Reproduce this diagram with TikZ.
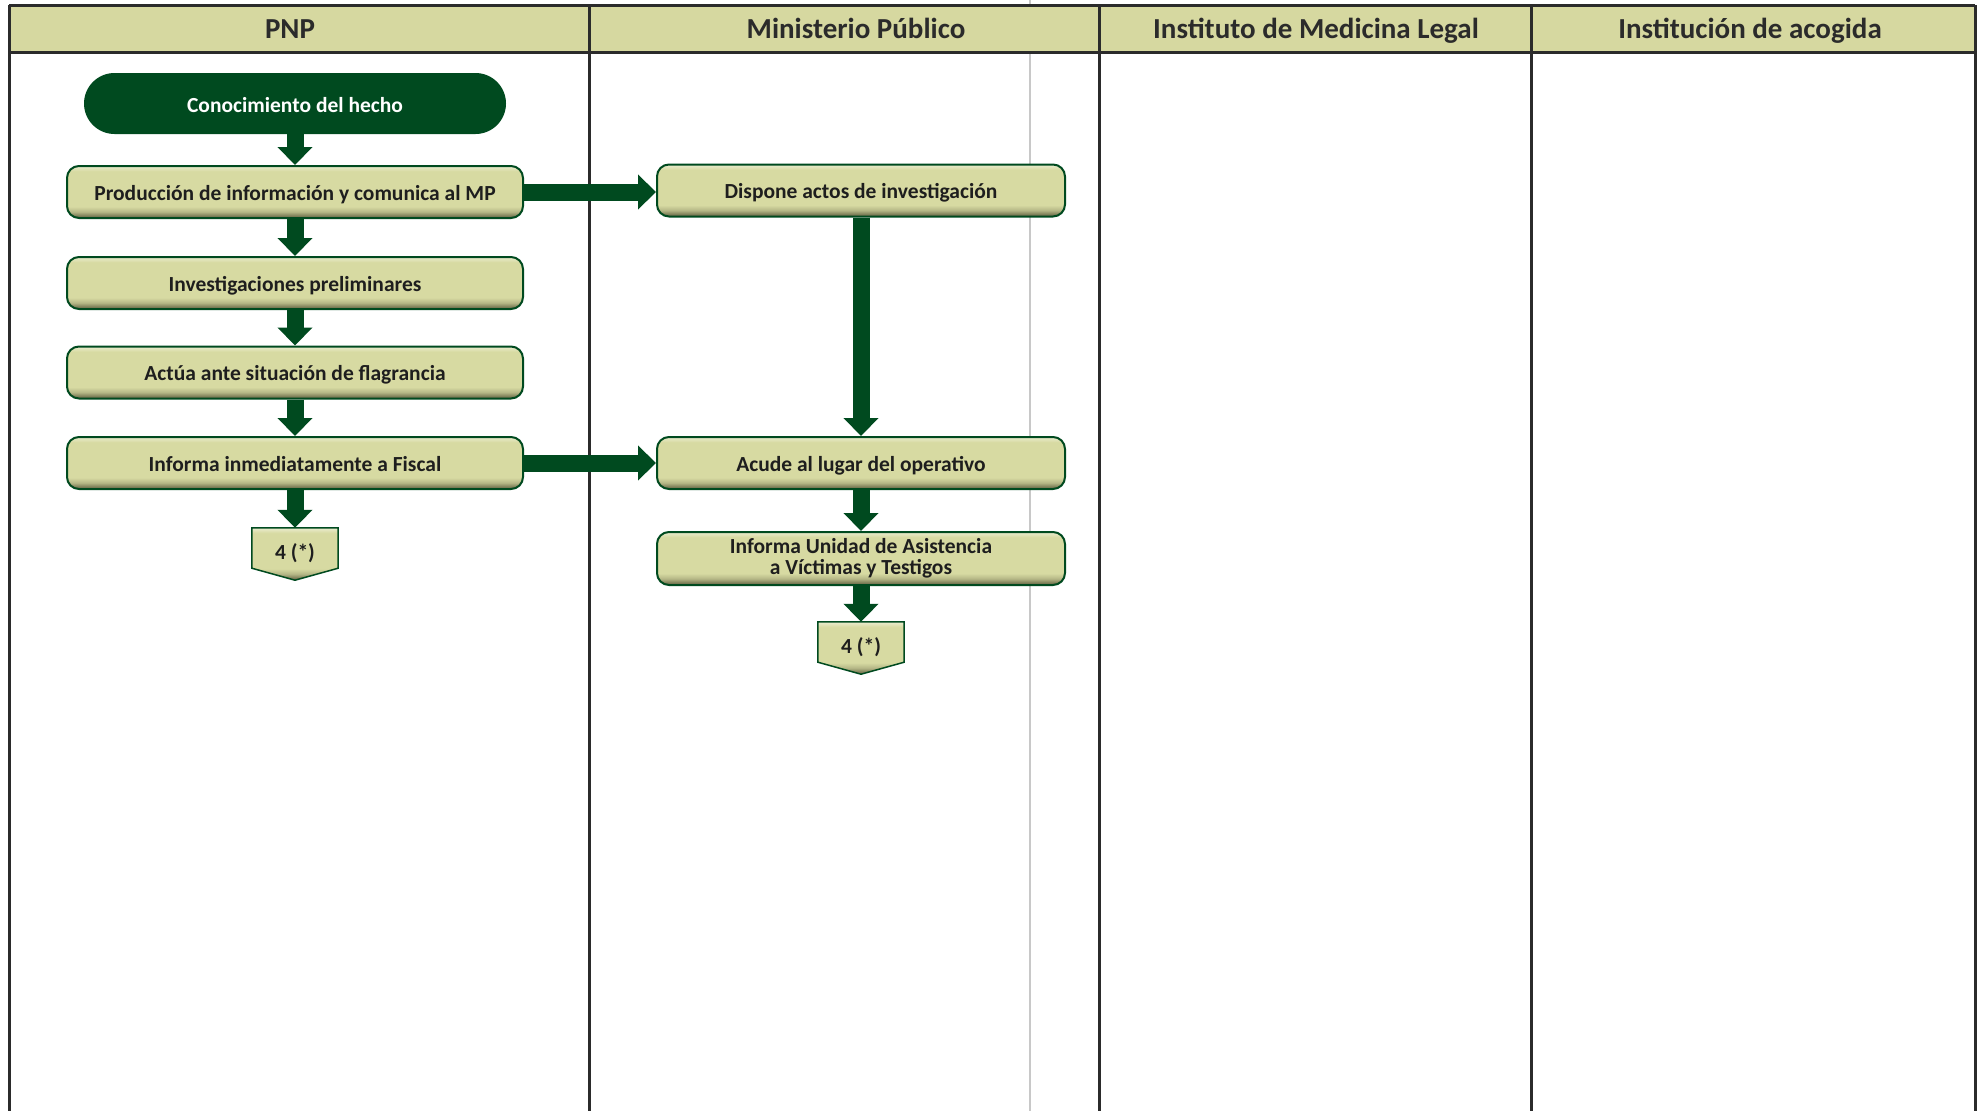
\documentclass[tikz,border=0pt]{standalone}
\usepackage{fontspec}
\setmainfont{Carlito}
\usetikzlibrary{arrows.meta,calc,shapes.misc}
\definecolor{dkgreen}{HTML}{004A1F}
\definecolor{olive}{HTML}{D7DAA2}
\definecolor{oliveL}{HTML}{EBEDD0}
\definecolor{oliveD}{HTML}{5E5E3E}
\definecolor{oliveM}{HTML}{B5B786}
\definecolor{hdr}{HTML}{D6D8A0}
\definecolor{framec}{HTML}{2B2B2B}
\definecolor{gridgray}{HTML}{C8C8C8}
\definecolor{txt}{HTML}{1E1E1E}
\pgfdeclareverticalshading{boxshade}{100bp}{color(0bp)=(oliveD); color(25bp)=(oliveD); color(31bp)=(oliveM); color(36bp)=(olive); color(70bp)=(olive); color(75bp)=(oliveL); color(100bp)=(oliveL)}
\pgfdeclarelayer{background}
\pgfsetlayers{background,main}
\newcommand{\boxfont}{\fontsize{21.5}{21.5}\selectfont\bfseries}
\newcommand{\hdrfont}{\fontsize{29}{29}\selectfont\bfseries}
\tikzset{
  lane/.style={draw=framec, line width=3pt},
  hdrtext/.style={font=\hdrfont, text=framec, inner sep=0pt, text height=20pt, text depth=0pt},
  procbox/.style={rectangle, rounded corners=12pt, draw=dkgreen, line width=2pt,
    shading=boxshade, minimum height=52pt, inner sep=0pt, font=\boxfont,
    text=txt, align=center},
  pbox/.style={procbox, minimum width=456pt, text height=16.5pt, text depth=0pt},
  mbox/.style={procbox, minimum width=408pt, text height=16.5pt, text depth=0pt},
  startbox/.style={rounded rectangle, fill=dkgreen, minimum width=422pt,
    minimum height=61pt, inner sep=0pt, text=white, font=\boxfont,
    text height=17pt, text depth=0pt},
  offpage/.style={rectangle, minimum width=86pt, minimum height=40pt,
    inner sep=0pt, font=\boxfont, text=txt, text height=22pt, text depth=0pt},
  offshape/.style={draw=dkgreen, line width=1.5pt, shading=boxshade},
  conn/.style={draw=dkgreen, line width=17pt, -{Triangle[width=34pt,length=18pt]}}
}
\begin{document}
\begin{tikzpicture}[x=1pt,y=-1pt]
\useasboundingbox (0,0) rectangle (1977,1111);
% light gray guide line
\draw[gridgray, line width=1.5pt] (1030,0) -- (1030,1111);
% header band
\fill[hdr] (9,5) rectangle (1975,52);
\draw[lane] (9,5) -- (1975,5);
\draw[lane] (9,52) -- (1975,52);
\draw[lane] (9,5) -- (9,1111);
\draw[lane] (589,5) -- (589,1111);
\draw[lane] (1099,5) -- (1099,1111);
\draw[lane] (1531,5) -- (1531,1111);
\draw[lane] (1975.5,5) -- (1975.5,1111);
\node[hdrtext] (h1) at (290,28) {PNP};
\node[hdrtext] (h2) at (856,28) {Ministerio Público};
\node[hdrtext] (h3) at (1316,28) {Instituto de Medicina Legal};
\node[hdrtext] (h4) at (1750,28) {Institución de acogida};
% PNP lane
\node[startbox] (start) at (295,103.5) {Conocimiento del hecho};
\node[pbox] (prod) at (295,192) {Producción de información y comunica al MP};
\node[pbox] (inv) at (295,283) {Investigaciones preliminares};
\node[pbox] (act) at (295,372.5) {Actúa ante situación de flagrancia};
\node[pbox] (infl) at (295,463) {Informa inmediatamente a Fiscal};
\node[offpage] (c1) at (295,548) {4 (*)};
% Ministerio lane
\node[mbox] (disp) at (861,190.5) {Dispone actos de investigación};
\node[mbox] (acu) at (861,463) {Acude al lugar del operativo};
\node[procbox, minimum width=408pt, minimum height=53pt] (iuv) at (861,558.5) {Informa Unidad de Asistencia\\a Víctimas y Testigos};
\node[offpage] (c2) at (861,642) {4 (*)};
% off-page connector shapes
\begin{pgfonlayer}{background}
\path[offshape] (c1.north west) -- (c1.north east) -- (c1.south east) -- ($(c1.south)+(0,12)$) -- (c1.south west) -- cycle;
\path[offshape] (c2.north west) -- (c2.north east) -- (c2.south east) -- ($(c2.south)+(0,12)$) -- (c2.south west) -- cycle;
\end{pgfonlayer}
% connectors
\draw[conn] (start.south) -- (prod.north);
\draw[conn] (prod.south) -- (inv.north);
\draw[conn] (inv.south) -- (act.north);
\draw[conn] (act.south) -- (infl.north);
\draw[conn] (infl.south) -- (c1.north);
\draw[conn] (prod.east) -- (prod.east -| disp.west);
\draw[conn] (infl.east) -- (acu.west);
\draw[conn] (disp.south) -- (acu.north);
\draw[conn] (acu.south) -- (iuv.north);
\draw[conn] (iuv.south) -- (c2.north);
\end{tikzpicture}
\end{document}
